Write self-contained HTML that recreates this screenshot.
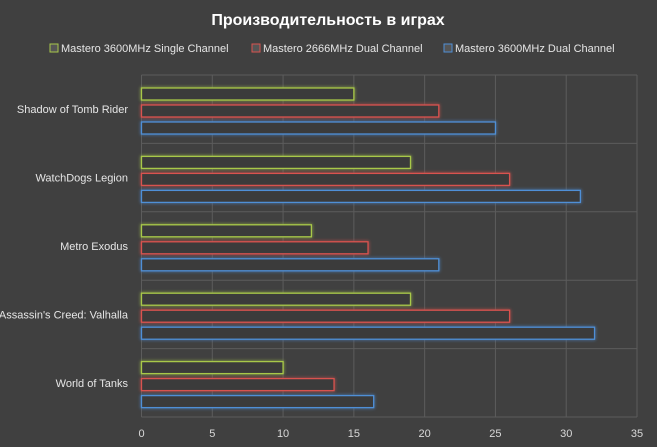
<!DOCTYPE html>
<html><head><meta charset="utf-8"><style>
body{margin:0;background:#404040;}
svg{display:block;font-family:"Liberation Sans",sans-serif;}
</style></head><body>
<svg id="c" width="657" height="447">
<defs><filter id="g" x="-10%" y="-60%" width="120%" height="220%"><feGaussianBlur stdDeviation="1.6" result="b"/><feMerge><feMergeNode in="b"/><feMergeNode in="SourceGraphic"/></feMerge></filter></defs>
<rect width="657" height="447" fill="#404040"/>
<text x="328" y="25" text-anchor="middle" fill="#fff" font-size="16" font-weight="bold">Производительность в играх</text>
</svg>
<script>
const categories=["Shadow of Tomb Rider","WatchDogs Legion","Metro Exodus","Assassin's Creed: Valhalla","World of Tanks"];
const seriesNames=["Mastero 3600MHz Single Channel","Mastero 2666MHz Dual Channel","Mastero 3600MHz Dual Channel"];
const single=[15,19,12,19,10];
const dual2666=[21,26,16,26,13.6];
const dual3600=[25,31,21,32,16.4];
const ticks=[0,5,10,15,20,25,30,35];
const colors=["#a8c84a","#d9534f","#4f8fd6"];
const svgEl=document.getElementById('c');const NS="http://www.w3.org/2000/svg";
const plotLeft=141.5,plotRight=637,plotTop=75,plotBottom=417;
const xs=v=>plotLeft+v*(plotRight-plotLeft)/35;
const ch=(plotBottom-plotTop)/categories.length;
function mk(t,a){const e=document.createElementNS(NS,t);for(const k in a)e.setAttribute(k,a[k]);svgEl.appendChild(e);return e;}
ticks.forEach(t=>{
 const l=mk('line',{x1:xs(t),x2:xs(t),y1:plotTop,y2:plotBottom,stroke:'#5c5c5c'});
 
 
 const tx=mk('text',{x:xs(t),y:437,'text-anchor':'middle',fill:'#d9d9d9','font-size':11});tx.textContent=t;
 
 
});
for(let i=0;i<=categories.length;i++){
 const l=mk('line',{x1:plotLeft,x2:plotRight,y1:plotTop+i*ch,y2:plotTop+i*ch,stroke:'#5c5c5c'});
 
 
}
const series=[single,dual2666,dual3600];
categories.forEach((c,i)=>{
 const y=plotTop+i*ch;
 const t=mk('text',{x:128,y:y+ch/2+4,'text-anchor':'end',fill:'#e6e6e6','font-size':11});t.textContent=c;
 
 
 series.forEach((s,j)=>{
  const r=mk('rect',{x:plotLeft,y:y+13+j*17,width:xs(s[i])-plotLeft,height:12,fill:'#3a3a3a',stroke:colors[j],'stroke-width':1.3,filter:'url(#g)'});
  
  
 });
});
const lx=[50,252,444];
seriesNames.forEach((n,j)=>{
 const r=mk('rect',{x:lx[j],y:44,width:8,height:8,fill:'#555',stroke:colors[j]});
 
 
 const t=mk('text',{x:lx[j]+11,y:52,fill:'#e6e6e6','font-size':11});t.textContent=n;
 
 
});
</script>
</body></html>
